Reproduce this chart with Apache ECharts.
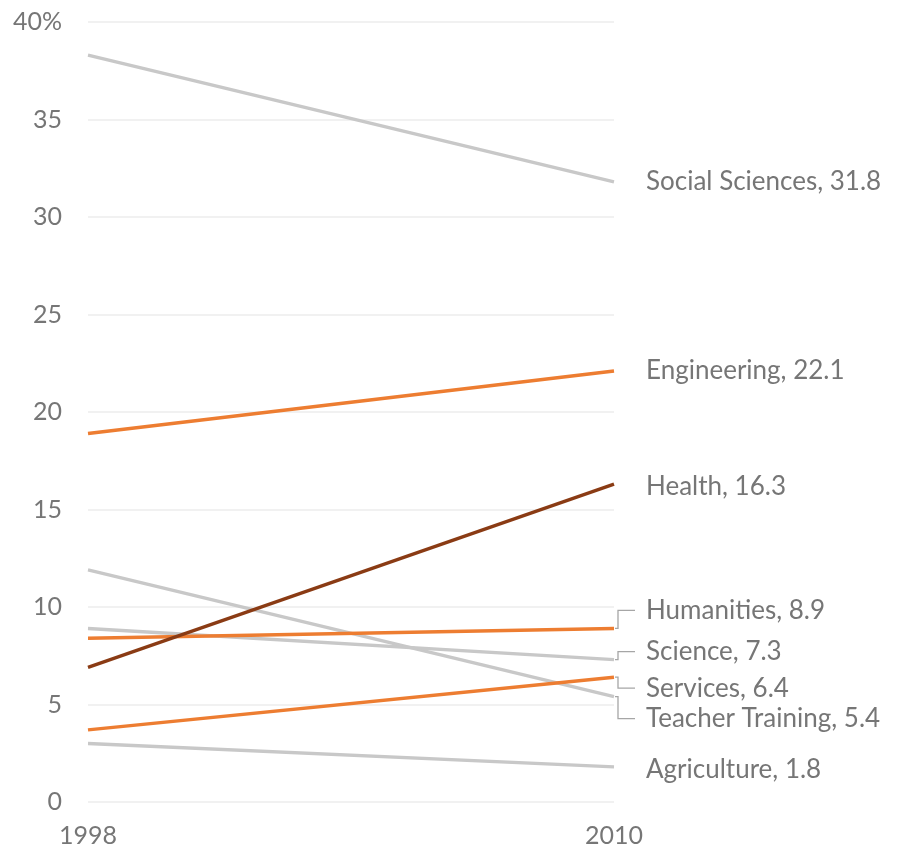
<!DOCTYPE html>
<html>
<head>
<meta charset="utf-8">
<script src="https://cdn.jsdelivr.net/npm/echarts@6/dist/echarts.min.js"></script>
<style>
  html, body { margin: 0; padding: 0; background: #fff; }
  #chart { width: 898px; height: 853px; }
</style>
</head>
<body>
<div id="chart"></div>
<script>
// Share of graduates by field of study, 1998 vs 2010 (percent)
const years = ['1998', '2010'];
const fields = ['Social Sciences', 'Teacher Training', 'Science', 'Agriculture', 'Engineering', 'Humanities', 'Services', 'Health'];
const socialSciences = [38.3, 31.8];
const teacherTraining = [11.9, 5.4];
const science = [8.9, 7.3];
const agriculture = [3.0, 1.8];
const engineering = [18.9, 22.1];
const humanities = [8.4, 8.9];
const services = [3.7, 6.4];
const health = [6.9, 16.3];
const yTicks = [0, 5, 10, 15, 20, 25, 30, 35, 40];

const values = [socialSciences, teacherTraining, science, agriculture, engineering, humanities, services, health];

const GRAY = '#c8c8c8';
const ORANGE = '#ed7d31';
const BROWN = '#8a3b14';
const TEXT = '#767676';
const colors = [GRAY, GRAY, GRAY, GRAY, ORANGE, ORANGE, ORANGE, BROWN];
// vertical shift of the end label (px) where labels would collide
const labelShift = [0, 22, -8, 3, 0, -18, 11, 2];
const withLeader = [false, true, true, false, false, true, true, false];

const chart = echarts.init(document.getElementById('chart'));

const series = fields.map((name, i) => ({
  name: name,
  type: 'line',
  data: values[i],
  symbol: 'none',
  silent: true,
  lineStyle: { color: colors[i], width: 3.4 },
  endLabel: {
    show: true,
    distance: 32,
    offset: [0, labelShift[i]],
    color: TEXT,
    fontFamily: 'Lato',
    fontSize: 26,
    formatter: p => name + ', ' + values[i][1].toFixed(1)
  },
  z: 2 + i
}));

chart.setOption({
  animation: false,
  grid: { left: 88, right: 284, top: 22, bottom: 51 },
  xAxis: {
    type: 'category',
    data: years,
    boundaryGap: false,
    axisLine: { show: false },
    axisTick: { show: false },
    axisLabel: { color: TEXT, fontFamily: 'Lato', fontSize: 25, margin: 21 }
  },
  yAxis: {
    type: 'value',
    min: yTicks[0],
    max: yTicks[yTicks.length - 1],
    interval: 5,
    axisLine: { show: false },
    axisTick: { show: false },
    splitLine: { lineStyle: { color: '#ececec', width: 1.5 } },
    axisLabel: {
      color: TEXT,
      fontFamily: 'Lato',
      fontSize: 25,
      margin: 26,
      formatter: v => v === 40 ? v + '%' : String(v)
    }
  },
  series: series
});

// Leader lines from the line ends to the shifted labels
const graphics = [];
fields.forEach((name, i) => {
  if (!withLeader[i]) return;
  const end = chart.convertToPixel({ xAxisIndex: 0, yAxisIndex: 0 }, [years[1], values[i][1]]);
  const x0 = end[0] + 1;
  const y0 = end[1];
  const y1 = y0 + labelShift[i];
  graphics.push({
    type: 'polyline',
    silent: true,
    shape: { points: [[x0, y0], [x0 + 3, y0], [x0 + 3, y1], [x0 + 20, y1]] },
    style: { stroke: '#a6a6a6', lineWidth: 1.3, fill: null }
  });
});
chart.setOption({ graphic: graphics });
</script>
</body>
</html>
